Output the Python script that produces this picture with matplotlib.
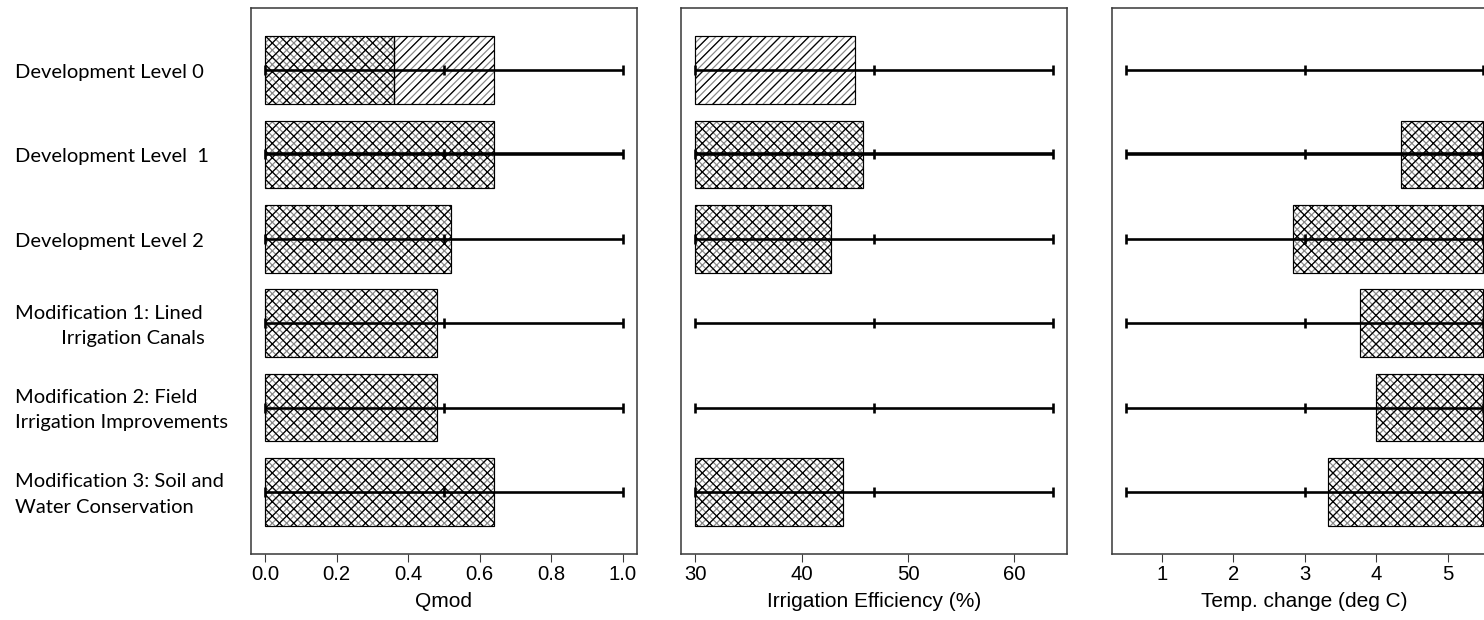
import matplotlib.pyplot as plt
import matplotlib.transforms as mtransforms
import numpy as np

DPI = 86
W, H = 1484, 620

scenarios = [
    "Development Level 0",
    "Development Level  1",
    "Development Level 2",
    "Modification 1: Lined\n         Irrigation Canals",
    "Modification 2: Field\nIrrigation Improvements",
    "Modification 3: Soil and\nWater Conservation",
]

# bar segments: row, start, end, pattern kind
qmod_row = [0, 0, 1, 2, 3, 4, 5]
qmod_lo = [0.0, 0.36, 0.0, 0.0, 0.0, 0.0, 0.0]
qmod_hi = [0.36, 0.64, 0.64, 0.52, 0.48, 0.48, 0.64]
qmod_kind = ["x", "/", "x", "x", "x", "x", "x"]

irr_row = [0, 1, 2, 5]
irr_lo = [30, 30, 30, 30]
irr_hi = [45.0, 45.8, 42.8, 43.9]
irr_kind = ["/", "x", "x", "x"]

temp_row = [1, 2, 3, 4, 5]
temp_lo = [4.35, 2.84, 3.77, 4.0, 3.33]
temp_hi = [5.5, 5.5, 5.5, 5.5, 5.5]
temp_kind = ["x", "x", "x", "x", "x"]

# sampled range (min, baseline, max) for each parameter
qmod_range = [0.0, 0.5, 1.0]
irr_range = [30.0, 46.8, 63.6]
temp_range = [0.5, 3.0, 5.5]

qmod_ticks = [0.0, 0.2, 0.4, 0.6, 0.8, 1.0]
irr_ticks = [30, 40, 50, 60]
temp_ticks = [1, 2, 3, 4, 5]

panels = [
    ("Qmod", qmod_row, qmod_lo, qmod_hi, qmod_kind, qmod_range, qmod_ticks, "{:.1f}"),
    ("Irrigation Efficiency (%)", irr_row, irr_lo, irr_hi, irr_kind, irr_range, irr_ticks, "{:.0f}"),
    ("Temp. change (deg C)", temp_row, temp_lo, temp_hi, temp_kind, temp_range, temp_ticks, "{:.0f}"),
]

plt.rcParams["font.family"] = ["Liberation Sans", "DejaVu Sans"]
plt.rcParams["hatch.linewidth"] = 1.0

fig = plt.figure(figsize=(W / DPI, H / DPI), dpi=DPI)

spine_col = "#3a3a3a"
lefts = [251, 681, 1111.7]
n = len(scenarios)

for (xlabel, rows, lo, hi, kind, rng, ticks, fmt), left in zip(panels, lefts):
    ax = fig.add_axes([left / W, (H - 554) / H, 386 / W, 546 / H])
    pad = (rng[2] - rng[0]) * 0.04
    ax.set_xlim(rng[0] - pad, rng[2] + pad)
    ax.set_ylim(n - 1 + 0.735, -0.735)

    for r, a, b, k in zip(rows, lo, hi, kind):
        fine, coarse = ("xxxx", "xx") if k == "x" else ("////", "//")
        ax.barh(r, b - a, left=a, height=0.8, color="white", edgecolor="#8a8a8a",
                hatch=fine, linewidth=0, zorder=2)
        ax.barh(r, b - a, left=a, height=0.8, color="none", edgecolor="black",
                hatch=coarse, linewidth=0, zorder=2)
        ax.barh(r, b - a, left=a, height=0.8, color="none", edgecolor="black",
                linewidth=1.0, zorder=3)

    for r in range(n):
        lw = 3.0 if r == 1 else 2.2
        ax.hlines(r, rng[0], rng[2], color="black", linewidth=lw, zorder=4)
        ax.plot(rng, [r] * 3, ls="none", marker="|", ms=8, mew=2.2,
                color="black", zorder=5)

    for s in ax.spines.values():
        s.set_color(spine_col)
        s.set_linewidth(1.3)
    ax.set_yticks([])
    ax.set_xticks(ticks)
    ax.set_xticklabels([fmt.format(t) for t in ticks], fontsize=17)
    ax.tick_params(axis="x", direction="out", length=7, width=0.9,
                   color=spine_col, pad=2)
    ax.set_xlabel(xlabel, fontsize=17.5, labelpad=7)

    if left == lefts[0]:
        trans = mtransforms.blended_transform_factory(fig.transFigure, ax.transData)
        for i, lab in enumerate(scenarios):
            ax.text(15 / W, i + 0.03, lab, transform=trans, ha="left", va="center",
                    fontsize=16.8, family=["Lato", "DejaVu Sans"], linespacing=1.6)

fig.savefig("out.png", dpi=DPI)
